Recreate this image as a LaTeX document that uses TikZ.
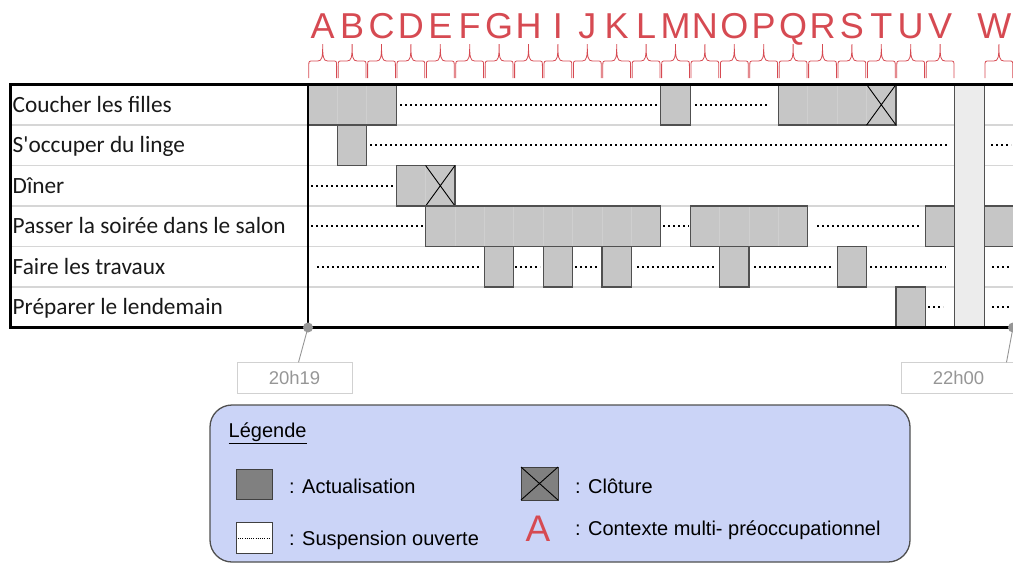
\documentclass[tikz,border=0pt]{standalone}
\usepackage{fontspec}
\setmainfont{Liberation Sans}
\newfontfamily\rowfont{Carlito}
\usetikzlibrary{calc}

\definecolor{ctxred}{RGB}{214,74,82}
\definecolor{actgray}{RGB}{198,198,198}
\definecolor{edgegray}{RGB}{80,80,80}
\definecolor{sepgray}{RGB}{214,214,214}
\definecolor{cellgray}{RGB}{207,207,207}
\definecolor{bandgray}{RGB}{236,236,236}
\definecolor{legendblue}{RGB}{203,212,247}
\definecolor{timegray}{RGB}{150,150,150}
\definecolor{swatchgray}{RGB}{128,128,128}

\tikzset{
  actbox/.style={fill=actgray},
  actedge/.style={draw=edgegray, line width=1.3pt},
  cellsep/.style={draw=cellgray, line width=0.8pt},
  rowsep/.style={draw=sepgray, line width=1.5pt},
  closeline/.style={draw=black, line width=0.9pt},
  susp/.style={line width=2.4pt, dash pattern=on 2.4pt off 2.6pt},
  ctxbrace/.style={draw=ctxred, line width=0.8pt},
  ctxletter/.style={text=ctxred, font=\fontsize{36}{36}\selectfont, anchor=base, inner sep=0pt},
  rowlabel/.style={font=\rowfont\fontsize{23.3}{28}\selectfont, anchor=base west, inner sep=0pt, text=black!90},
  timebox/.style={draw=black!18, text=timegray, font=\fontsize{18.5}{18.5}\selectfont, minimum width=115pt, minimum height=31pt, inner sep=0pt},
  legtext/.style={font=\fontsize{20}{24}\selectfont, anchor=west, inner sep=0pt},
}

\def\colx#1{308+(#1)*29.4}
\def\rowtop#1{84.5+(#1)*40.5}
\def\rowmid#1{104.75+(#1)*40.5}
\def\ctxshift{0}
\def\actblock(#1:#2:#3){%
  \fill[actbox] ({\colx{#1}},{\rowtop{#3}}) rectangle ({\colx{#2+1}},{\rowtop{#3+1}});
  \foreach \k in {#1,...,#2} \draw[cellsep] ({\colx{\k}},{\rowtop{#3}}) -- ({\colx{\k}},{\rowtop{#3+1}});
  \draw[actedge] ({\colx{#1}},{\rowtop{#3}}) rectangle ({\colx{#2+1}},{\rowtop{#3+1}});}
\def\closecell(#1:#2){\draw[closeline] ({\colx{#1}},{\rowtop{#2}}) -- ({\colx{#1+1}},{\rowtop{#2+1}}) ({\colx{#1+1}},{\rowtop{#2}}) -- ({\colx{#1}},{\rowtop{#2+1}});}
\def\suspend(#1:#2:#3){\draw[susp] (#1,{\rowmid{#3}}) -- (#2,{\rowmid{#3}});}
\def\ctxcell(#1:#2){%
  \draw[ctxbrace] ({\colx{#1}+0.8},78) -- ({\colx{#1}+0.8},66) .. controls ({\colx{#1}+0.8},61) .. ({\colx{#1}+5},61)
    -- ({\colx{#1}+9.7},61) .. controls ({\colx{#1}+14.2},61) and ({\colx{#1}+14.7},57) .. ({\colx{#1}+14.7},44)
    .. controls ({\colx{#1}+14.7},57) and ({\colx{#1}+15.2},61) .. ({\colx{#1}+19.7},61)
    -- ({\colx{#1}+24.4},61) .. controls ({\colx{#1}+28.6},61) .. ({\colx{#1}+28.6},66) -- ({\colx{#1}+28.6},78);
  \node[ctxletter] (ctx#2) at ({\colx{#1}+14.7+\ctxshift},38) {#2};}

\begin{document}
\begin{tikzpicture}[x=1pt, y=-1pt]
  \useasboundingbox (0,0) rectangle (1013,563);
  \clip (0,0) rectangle (1013,563);
  %%%%% CONTEXTES %%%%%
  \ctxcell(0:A) \ctxcell(1:B) \ctxcell(2:C) \ctxcell(3:D) \ctxcell(4:E) \ctxcell(5:F)
  \ctxcell(6:G) \ctxcell(7:H) \ctxcell(8:I) \ctxcell(9:J) \ctxcell(10:K) \ctxcell(11:L)
  \ctxcell(12:M) \ctxcell(13:N) \ctxcell(14:O) \ctxcell(15:P) \ctxcell(16:Q) \ctxcell(17:R)
  \ctxcell(18:S) \ctxcell(19:T) \ctxcell(20:U) \ctxcell(21:V)
  \def\ctxshift{-4.5}
  \ctxcell(23:W)

  %%%%% TABLEAU %%%%%
  \draw[rowsep] (10.5,{\rowtop{1}}) -- (1020,{\rowtop{1}});
  \draw[rowsep] (10.5,{\rowtop{2}}) -- (1020,{\rowtop{2}});
  \draw[rowsep] (10.5,{\rowtop{3}}) -- (1020,{\rowtop{3}});
  \draw[rowsep] (10.5,{\rowtop{4}}) -- (1020,{\rowtop{4}});
  \draw[rowsep] (10.5,{\rowtop{5}}) -- (1020,{\rowtop{5}});

  \fill[bandgray] ({\colx{22}},{\rowtop{0}}) rectangle ({\colx{23}},{\rowtop{6}});
  \draw[actedge] ({\colx{22}},{\rowtop{0}}) -- ({\colx{22}},{\rowtop{6}});
  \draw[actedge] ({\colx{23}},{\rowtop{0}}) -- ({\colx{23}},{\rowtop{6}});

  \node[rowlabel] (coucher) at (12.5,{\rowmid{0}+7.5}) {Coucher les filles};
  \node[rowlabel] (linge) at (12.5,{\rowmid{1}+7.5}) {S'occuper du linge};
  \node[rowlabel] (diner) at (12.5,{\rowmid{2}+7.5}) {Dîner};
  \node[rowlabel] (salon) at (12.5,{\rowmid{3}+7.5}) {Passer la soirée dans le salon};
  \node[rowlabel] (travaux) at (12.5,{\rowmid{4}+7.5}) {Faire les travaux};
  \node[rowlabel] (lendemain) at (12.5,{\rowmid{5}+7.5}) {Préparer le lendemain};

  % coucher les filles
  \actblock(0:2:0) \suspend(400:658:0) \actblock(12:12:0) \suspend(695:767:0)
  \actblock(16:19:0) \closecell(19:0)
  % linge
  \actblock(1:1:1) \suspend(370:949:1) \suspend(991:1011:1)
  % diner
  \suspend(311:393:2) \actblock(3:4:2) \closecell(4:2)
  % salon
  \suspend(311:423:3) \actblock(4:11:3) \suspend(663:689:3) \actblock(13:16:3)
  \suspend(817:919:3) \actblock(21:21:3) \actblock(23:23:3)
  % travaux
  \suspend(317:480:4) \actblock(6:6:4) \suspend(515:540:4) \actblock(8:8:4)
  \suspend(575:599:4) \actblock(10:10:4) \suspend(637:715:4) \actblock(14:14:4)
  \suspend(754:831:4) \actblock(18:18:4) \suspend(870:946:4) \suspend(992:1010:4)
  % lendemain
  \actblock(20:20:5) \suspend(928:943:5) \suspend(992:1010:5)

  \draw[line width=1.2pt] (308,{\rowtop{0}}) -- (308,{\rowtop{6}});
  \draw[line width=2.5pt] (1020,{\rowtop{0}}) -- (10.5,{\rowtop{0}}) -- (10.5,{\rowtop{6}}) -- (1020,{\rowtop{6}});

  %%%%% HEURES %%%%%
  \coordinate (tstart) at (308,{\rowtop{6}});
  \coordinate (tend) at (1013,{\rowtop{6}});
  \node[timebox] (hstart) at (294.5,378) {20h19};
  \node[timebox] (hend) at (958.5,378) {22h00};
  \draw[timegray, line width=0.9pt] (tstart) -- ([xshift=4pt]hstart.north);
  \draw[timegray, line width=0.9pt] (tend) -- ([xshift=48pt]hend.north);
  \fill[timegray] (tstart) circle (5pt);
  \fill[timegray] (tend) circle (5pt);

  %%%%% LEGENDE %%%%%
  \draw[rounded corners=22pt, fill=legendblue, draw=edgegray, line width=1.3pt] (210,405) rectangle (910,562);
  \node[legtext] (legtitle) at (228.5,433) {\underline{Légende}};
  \draw[fill=swatchgray, draw=black!75, line width=1pt] (236,469) rectangle (272,499);
  \node[legtext] (legact) at (289,486) {: Actualisation};
  \draw[fill=white, draw=black!75, line width=1pt] (236,522) rectangle (272,553);
  \draw[line width=1pt, dash pattern=on 1pt off 1.2pt] (238,538) -- (270,538);
  \node[legtext] (legsusp) at (289,540) {: Suspension ouverte};
  \draw[fill=swatchgray, draw=black!75, line width=1pt] (521,467) rectangle (558,500);
  \draw[line width=0.9pt] (521,467) -- (558,500) (558,467) -- (521,500);
  \node[legtext] (legclot) at (575,486) {: Clôture};
  \node[ctxletter, font=\fontsize{37}{37}\selectfont, anchor=center] (legA) at (538,529) {A};
  \node[legtext] (legctx) at (575,530) {: Contexte multi- préoccupationnel};
\end{tikzpicture}
\end{document}
